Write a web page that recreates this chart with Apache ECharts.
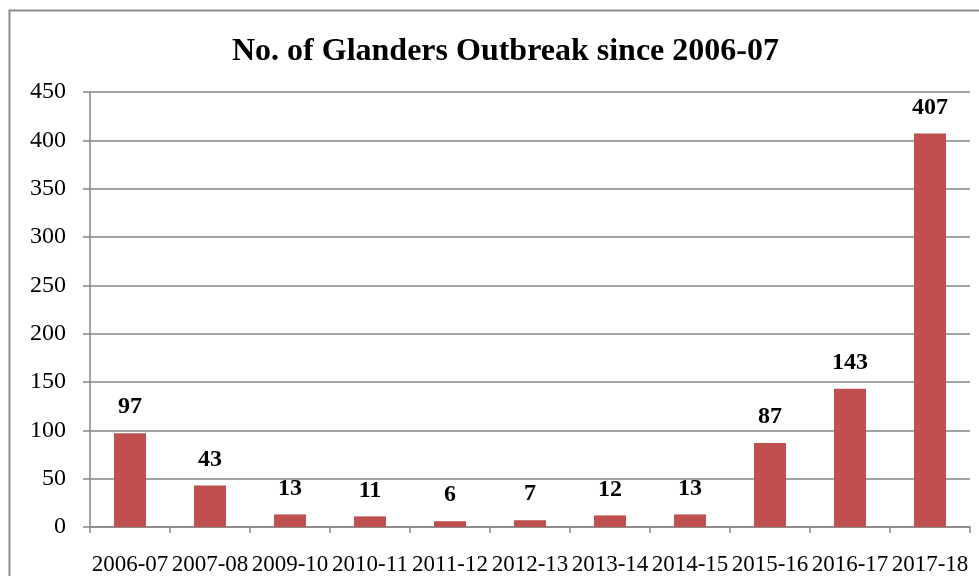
<!DOCTYPE html>
<html><head><meta charset="utf-8">
<script src="https://cdn.jsdelivr.net/npm/echarts@6/dist/echarts.min.js"></script>
<style>html,body{margin:0;padding:0;background:#fff}#c{width:979px;height:576px}</style>
</head><body><div id="c"></div>
<script>
const categories = ['2006-07','2007-08','2009-10','2010-11','2011-12','2012-13','2013-14','2014-15','2015-16','2016-17','2017-18'];
const outbreaks = [97,43,13,11,6,7,12,13,87,143,407];
const titleText = 'No. of Glanders Outbreak since 2006-07';
const font = '"Liberation Serif", "DejaVu Serif", serif';
const chart = echarts.init(document.getElementById('c'));
chart.setOption({
  animation:false,
  backgroundColor:'#fff',
  graphic:[{type:'rect',shape:{x:9.5,y:10.5,width:1000,height:600},style:{fill:'none',stroke:'#8c8c8c',lineWidth:2},silent:true}],
  title:{text:titleText,left:227,top:31,itemGap:0,textStyle:{fontFamily:font,fontWeight:'bold',fontSize:32,color:'#000'}},
  grid:{left:90,right:9,top:92,bottom:48,containLabel:false},
  xAxis:{type:'category',data:categories,
    axisLine:{lineStyle:{color:'#868686',width:1.5}},
    axisTick:{show:true,length:6,alignWithLabel:false,lineStyle:{color:'#868686',width:1.5}},
    axisLabel:{fontFamily:font,fontSize:23,color:'#000',margin:26,interval:0}},
  yAxis:{type:'value',min:0,max:450,interval:50,
    axisLine:{show:true,lineStyle:{color:'#868686',width:1.5}},
    axisTick:{show:true,length:7,lineStyle:{color:'#868686',width:1.5}},
    splitLine:{lineStyle:{color:'#868686',width:1.5}},
    axisLabel:{fontFamily:font,fontSize:24,color:'#000',margin:24}},
  series:[{type:'bar',data:outbreaks,barWidth:'40%',itemStyle:{color:'#C0504D'},
    label:{show:true,position:'top',distance:14,fontFamily:font,fontWeight:'bold',fontSize:24,color:'#000'}}]
});
</script></body></html>
